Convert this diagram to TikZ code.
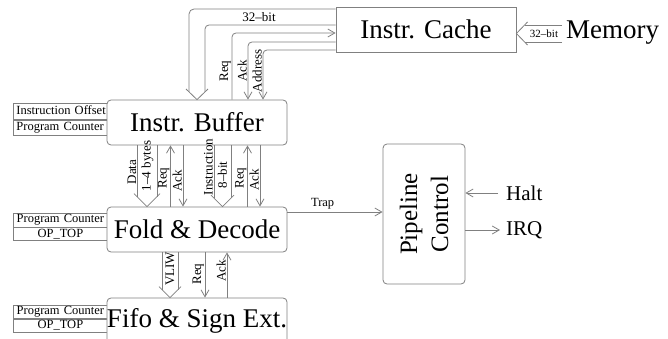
\documentclass[tikz,border=0pt]{standalone}
\usepackage{fontspec}
\setmainfont{Liberation Serif}
\usetikzlibrary{arrows.meta}
\definecolor{linegray}{gray}{0.5}
% wide bus arrow pointing down: centre x, half width, source node, target node
\newcommand\busdown[4]{%
  \begin{scope}[shift={(#1,0 |- #4.north)}]
    \draw[wire] (-#2,0 |- #3.south) -- (-#2,-#2);
    \draw[wire] (#2,0 |- #3.south) -- (#2,-#2);
    \draw[wire] (-#2-3,-#2-3) -- (0,0) -- (#2+3,-#2-3);
  \end{scope}}
\begin{document}
\begin{tikzpicture}[x=1pt,y=-1pt,
  wire/.style={draw=linegray,line width=0.8pt},
  sig/.style={wire,-{Straight Barb[length=7pt,width=8pt]}},
  blk/.style={draw=linegray,line width=0.8pt,fill=white,rounded corners=4pt,
    inner sep=0pt,font=\fontsize{27}{30}\selectfont},
  cell/.style={draw=linegray,line width=0.8pt,anchor=north west,text width=88pt,
    inner xsep=3pt,inner ysep=0pt,text height=8.5pt,text depth=2.5pt,
    font=\fontsize{12.5}{14}\selectfont},
  lab/.style={font=\fontsize{13}{15}\selectfont,inner sep=1pt,rotate=90},
  side/.style={font=\fontsize{21}{24}\selectfont,inner sep=0pt,anchor=west},
]
\useasboundingbox (0,0) rectangle (668,339);
\clip (0,0) rectangle (668,339);

% register tables beside the stages
\node[cell,minimum height=16pt,align=left] (bufoff) at (13,103) {\mbox{Instruction Offset}};
\node[cell,minimum height=15pt,align=left] (bufpc) at (bufoff.south west) {\mbox{Program Counter}};
\node[cell,minimum height=14pt,align=center] (decpc) at (13,212.5) {Program Counter};
\node[cell,minimum height=13pt,align=center] (decop) at (decpc.south west) {OP\_TOP};
\node[cell,minimum height=13pt,align=center] (fifpc) at (13,305) {Program Counter};
\node[cell,minimum height=13pt,align=center] (fifop) at (fifpc.south west) {OP\_TOP};

% pipeline stages
\node[blk,sharp corners,minimum width=180pt,minimum height=45pt] (cache) at (426,29.5) {Instr. Cache};
\node[blk,minimum width=180pt,minimum height=45pt] (buf) at (197,122.5) {Instr. Buffer};
\node[blk,minimum width=180pt,minimum height=45pt] (dec) at (197,229.5) {Fold \& Decode};
\node[blk,minimum width=180pt,minimum height=45pt] (fifo) at (197,320.5) {Fifo \& Sign Ext.};
\node[blk,minimum width=82pt,minimum height=140pt] (pipe) at (424,214) {};
\node[rotate=90,align=center,font=\fontsize{25}{31}\selectfont] (pipetxt) at (pipe.center) {Pipeline\\Control};

% memory feeding the cache
\node[inner sep=0pt,anchor=west,font=\fontsize{27}{30}\selectfont] (mem) at (566,33) {Memory};
\draw[wire] ([xshift=-4pt]mem.west |- 0,25) -- (524.5,25);
\draw[wire] ([xshift=-4pt]mem.west |- 0,42) -- (524.5,42);
\draw[wire] (527.5,22) -- (cache.east |- 0,33.5) -- (527.5,45);
\node[font=\fontsize{11}{13}\selectfont,inner sep=0pt] (lmem) at (544,33.5) {32–bit};

% cache to buffer
\draw[wire,rounded corners=5pt] (cache.west |- 0,9) -- (189,9) -- (189,92);
\draw[wire,rounded corners=4pt] (cache.west |- 0,25) -- (205,25) -- (205,92);
\draw[wire] (186,89) -- (197,0 |- buf.north) -- (208,89);
\node[font=\fontsize{13}{15}\selectfont,inner sep=0pt] (lc32) at (259,17) {32–bit};
\draw[sig,rounded corners=4pt] (232,0 |- buf.north) |- (cache.west |- 0,33);
\draw[sig,rounded corners=4pt] (cache.west |- 0,42) -| (248,0 |- buf.north);
\draw[sig,rounded corners=4pt] (cache.west |- 0,50) -| (263,0 |- buf.north);
\node[lab,anchor=south] (lreqc) at (232,71) {Req};
\node[lab,anchor=south] (lackc) at (248,71) {Ack};
\node[lab,anchor=south] (ladr) at (263,71) {Address};

% buffer to decoder
\busdown{147}{10}{buf}{dec}
\draw[sig] (170.5,0 |- dec.north) -- (170.5,0 |- buf.south);
\draw[sig] (183,0 |- buf.south) -- (183,0 |- dec.north);
\busdown{222.5}{8.5}{buf}{dec}
\draw[sig] (247.5,0 |- dec.north) -- (247.5,0 |- buf.south);
\draw[sig] (260,0 |- buf.south) -- (260,0 |- dec.north);
\node[lab,anchor=south] (ldata) at (137.5,172) {Data};
\node[lab] (lbytes) at (147.5,166) {1–4 bytes};
\node[lab,anchor=south] (lreqd) at (170.5,178) {Req};
\node[lab,anchor=south] (lackd) at (183,181) {Ack};
\node[lab,anchor=south] (linstr) at (214,167) {Instruction};
\node[lab] (l8bit) at (222.5,175) {8–bit};
\node[lab,anchor=south] (lreqi) at (247.5,178) {Req};
\node[lab,anchor=south] (lacki) at (260,180) {Ack};

% decoder to fifo
\busdown{170}{8}{dec}{fifo}
\draw[sig] (205,0 |- dec.south) -- (205,0 |- fifo.north);
\draw[sig] (227,0 |- fifo.north) -- (227,0 |- dec.south);
\node[lab] (lvliw) at (170,269) {VLIW};
\node[lab,anchor=south] (lreqf) at (205,274) {Req};
\node[lab,anchor=south] (lackf) at (227,271) {Ack};

% pipeline control signals
\draw[sig] (dec.east |- 0,212) -- (pipe.west |- 0,212)
  node[pos=0.37,above,inner sep=2pt,font=\fontsize{12.5}{14}\selectfont] (ltrap) {Trap};
\node[side] (halt) at (506,193) {Halt};
\node[side] (irq) at (506,230) {IRQ};
\draw[sig] ([xshift=-8pt]halt.west) -- (pipe.east |- halt.west);
\draw[sig] (pipe.east |- irq.west) -- ([xshift=-6pt]irq.west);
\end{tikzpicture}
\end{document}
